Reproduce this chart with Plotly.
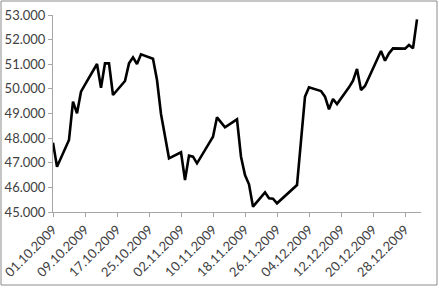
import plotly.graph_objects as go

dates = [
    "2009-10-01", "2009-10-02", "2009-10-05", "2009-10-06", "2009-10-07", "2009-10-08", "2009-10-09",
    "2009-10-12", "2009-10-13", "2009-10-14", "2009-10-15", "2009-10-16",
    "2009-10-19", "2009-10-20", "2009-10-21", "2009-10-22", "2009-10-23",
    "2009-10-26", "2009-10-27", "2009-10-28", "2009-10-30",
    "2009-11-02", "2009-11-03", "2009-11-04", "2009-11-05", "2009-11-06",
    "2009-11-09", "2009-11-10", "2009-11-11", "2009-11-12", "2009-11-13",
    "2009-11-16", "2009-11-17", "2009-11-18", "2009-11-19", "2009-11-20",
    "2009-11-23", "2009-11-24", "2009-11-25", "2009-11-26",
    "2009-12-01", "2009-12-02", "2009-12-03", "2009-12-04",
    "2009-12-07", "2009-12-08", "2009-12-09", "2009-12-10", "2009-12-11",
    "2009-12-14", "2009-12-15", "2009-12-16", "2009-12-17", "2009-12-18",
    "2009-12-21", "2009-12-22", "2009-12-23", "2009-12-24", "2009-12-25",
    "2009-12-28", "2009-12-29", "2009-12-30", "2009-12-31",
]
values = [
    47816, 46841, 47924, 49481, 49007, 49887, 50171,
    51010, 50049, 51037, 51037, 49751,
    50320, 51037, 51281, 51010, 51403,
    51227, 50360, 48980, 47179,
    47423, 46299, 47288, 47247, 46976,
    47788, 48059, 48844, 48641, 48438,
    48763, 47247, 46503, 46124, 45217,
    45799, 45555, 45541, 45352,
    46096, 47890, 49684, 50063,
    49914, 49684, 49169, 49589, 49386,
    50063, 50333, 50807, 49954, 50117,
    51200, 51538, 51145, 51443, 51646,
    51633, 51782, 51646, 52824,
]
y_ticks = [45000, 46000, 47000, 48000, 49000, 50000, 51000, 52000, 53000]
y_tick_labels = ["45.000", "46.000", "47.000", "48.000", "49.000", "50.000", "51.000", "52.000", "53.000"]

fig = go.Figure()
fig.add_trace(go.Scatter(
    x=dates, y=values, mode="lines",
    line=dict(color="#000000", width=2.6),
    hoverinfo="skip",
))

font = dict(family="Lato, Calibri, sans-serif", size=13, color="#404040")
fig.update_layout(
    width=439, height=288,
    margin=dict(l=53, r=18, t=15, b=76, autoexpand=False),
    paper_bgcolor="white", plot_bgcolor="white",
    showlegend=False,
    font=font,
    xaxis=dict(
        type="date",
        range=["2009-10-01", "2010-01-01"],
        tick0="2009-10-01", dtick=8 * 86400000,
        tickformat="%d.%m.%Y",
        tickangle=-45,
        automargin=False,
        showgrid=False, zeroline=False,
        showline=True, linecolor="#a6a6a6", linewidth=1,
        ticks="outside", ticklen=4, tickcolor="#a6a6a6",
        tickfont=font,
    ),
    yaxis=dict(
        range=[45000, 53000],
        tickvals=y_ticks, ticktext=y_tick_labels,
        automargin=False,
        showgrid=False, zeroline=False,
        showline=True, linecolor="#a6a6a6", linewidth=1,
        ticks="outside", ticklen=4, tickcolor="#a6a6a6",
        tickfont=font,
    ),
    shapes=[dict(
        type="rect", xref="paper", yref="paper",
        x0=-0.1413, x1=1.0435, y0=-0.3706, y1=1.071,
        line=dict(color="#8c8c8c", width=1), fillcolor="rgba(0,0,0,0)",
        layer="above",
    )],
)

fig.write_html(
    "out.html",
    config={"displayModeBar": False},
    post_script="document.body.style.margin='0';document.body.style.overflow='hidden';",
)
